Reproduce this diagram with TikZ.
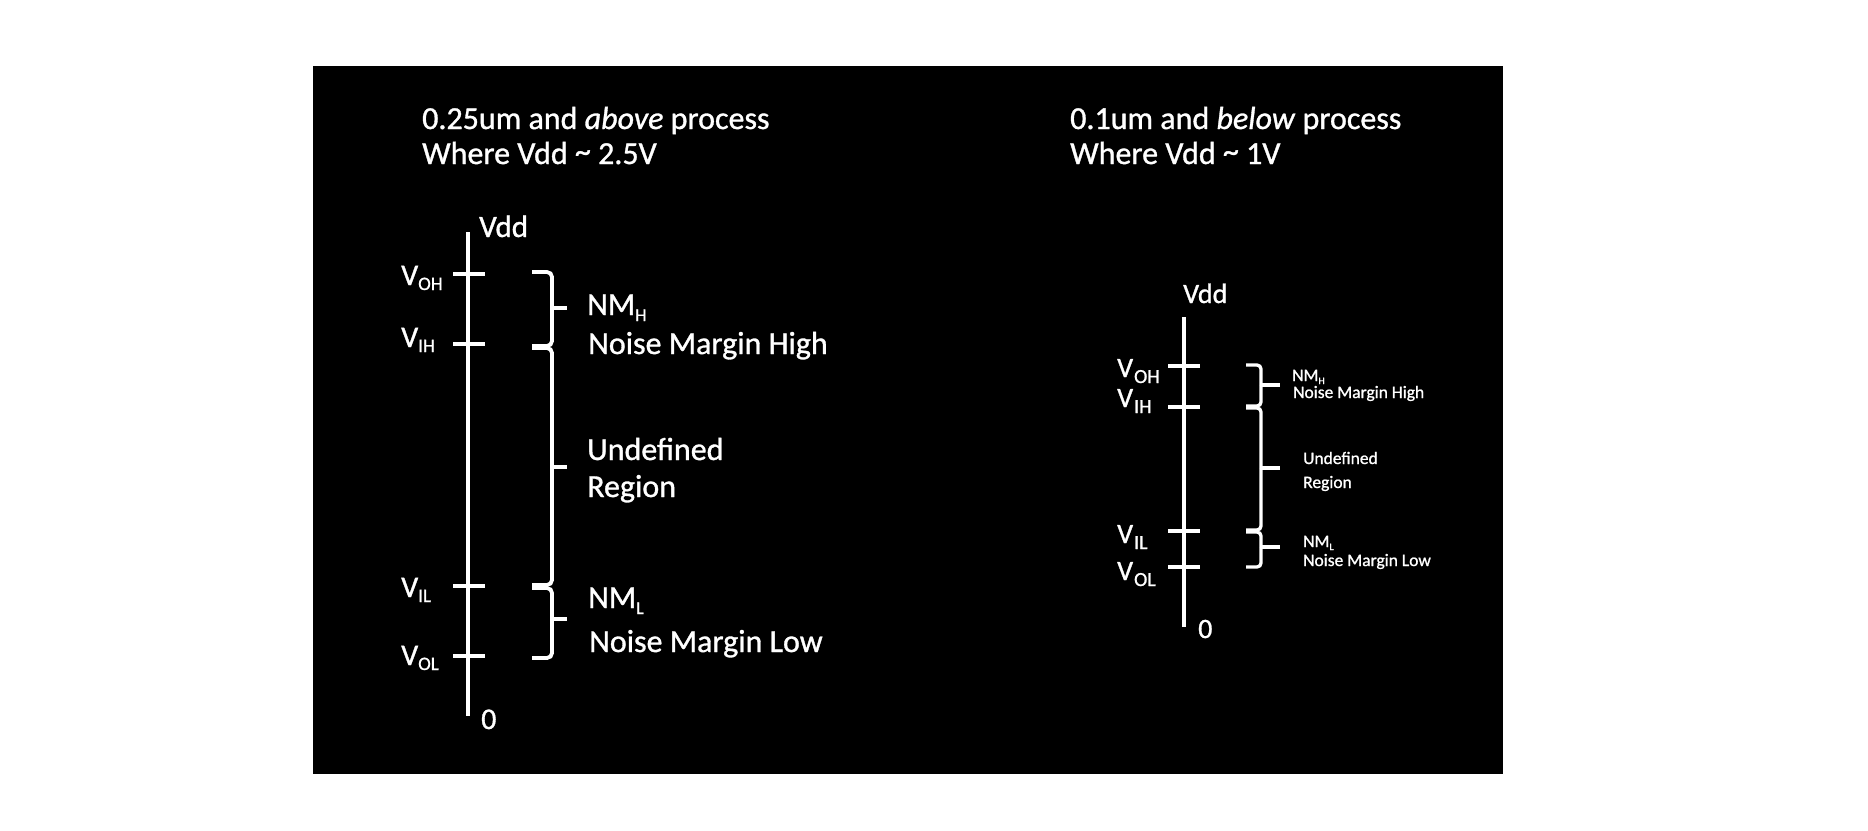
\documentclass[tikz,border=0pt]{standalone}
\usepackage{fontspec}
\setmainfont[FakeBold=1]{Carlito}
\newcommand{\fsz}[1]{\fontsize{#1}{#1}\selectfont}
\newcommand{\mytilde}{\raisebox{2pt}{\textasciitilde}}
\begin{document}
\begin{tikzpicture}[x=1pt,y=-1pt,
  txt/.style={text=white,inner sep=0pt,anchor=base west},
  axisline/.style={draw=white,line width=3.5pt},
  tickline/.style={draw=white,line width=4pt},
  bracket/.style={draw=white,line width=3.8pt,rounded corners=5pt},
  bracketip/.style={draw=white,line width=3.8pt}]
\useasboundingbox (0,0) rectangle (1868,830);
\fill[black] (313,66) rectangle (1503,774);

% ---------------- Left panel ----------------
\node[txt] (lt1) at (422,129) {\fsz{32}0.25um and \textit{above} process};
\node[txt] (lt2) at (422,164) {\fsz{32}Where Vdd \mytilde{} 2.5V};

\coordinate (la-top) at (468,232);
\coordinate (la-bot) at (468,716);
\draw[axisline] (la-top) -- (la-bot);
\node[txt] (lvdd) at (479,237) {\fsz{31}Vdd};
\node[txt] (lzero) at (481,729) {\fsz{30}0};

\foreach \n/\y in {oh/274,ih/344,il/586,ol/656}{
  \coordinate (lt-\n-a) at (453,\y);
  \coordinate (lt-\n-b) at (485,\y);
  \draw[tickline] (lt-\n-a) -- (lt-\n-b);
}
\node[txt] (lvoh) at (401,285) {\fsz{30}V\raisebox{-5pt}{\fsz{19}OH}};
\node[txt] (lvih) at (401,347) {\fsz{30}V\raisebox{-5pt}{\fsz{19}IH}};
\node[txt] (lvil) at (401,597) {\fsz{30}V\raisebox{-5pt}{\fsz{19}IL}};
\node[txt] (lvol) at (401,665) {\fsz{30}V\raisebox{-5pt}{\fsz{19}OL}};

% brackets left
\foreach \t/\m/\b [count=\i] in {272/308/346, 348/467/585, 588/619/658}{
  \coordinate (lb\i-t) at (532,\t);
  \coordinate (lb\i-m) at (552,\m);
  \coordinate (lb\i-b) at (532,\b);
  \coordinate (lb\i-tip) at (567,\m);
  \draw[bracket] (lb\i-t) -- (552,\t) -- (lb\i-m);
  \draw[bracket] (lb\i-m) -- (552,\b) -- (lb\i-b);
  \draw[bracketip] (lb\i-m) -- (lb\i-tip);
}
\node[txt] (lnmh) at (587,315) {\fsz{32}NM\raisebox{-6pt}{\fsz{18}H}};
\node[txt] (lnmht) at (588,354) {\fsz{32}Noise Margin High};
\node[txt] (lund) at (587,460) {\fsz{32}Undefined};
\node[txt] (lreg) at (587,497) {\fsz{32}Region};
\node[txt] (lnml) at (588,608) {\fsz{32}NM\raisebox{-6pt}{\fsz{18}L}};
\node[txt] (lnmlt) at (589,652) {\fsz{32}Noise Margin Low};

% ---------------- Right panel ----------------
\node[txt] (rt1) at (1070,129) {\fsz{32}0.1um and \textit{below} process};
\node[txt] (rt2) at (1070,164) {\fsz{32}Where Vdd \mytilde{} 1V};

\coordinate (ra-top) at (1184,317);
\coordinate (ra-bot) at (1184,627);
\draw[axisline] (ra-top) -- (ra-bot);
\node[txt] (rvdd) at (1183,303) {\fsz{28}Vdd};
\node[txt] (rzero) at (1198,638) {\fsz{28}0};

\foreach \n/\y in {oh/365.5,ih/407,il/531,ol/567}{
  \coordinate (rt-\n-a) at (1168,\y);
  \coordinate (rt-\n-b) at (1200,\y);
  \draw[tickline] (rt-\n-a) -- (rt-\n-b);
}
\node[txt] (rvoh) at (1117,377) {\fsz{28}V\kern1pt\raisebox{-6pt}{\fsz{20}OH}};
\node[txt] (rvih) at (1117,407) {\fsz{28}V\kern1pt\raisebox{-6pt}{\fsz{20}IH}};
\node[txt] (rvil) at (1117,543) {\fsz{28}V\kern1pt\raisebox{-6pt}{\fsz{20}IL}};
\node[txt] (rvol) at (1117,580) {\fsz{28}V\kern1pt\raisebox{-6pt}{\fsz{20}OL}};

\foreach \t/\m/\b [count=\i] in {365/385/406, 408/468/530, 532/547/567}{
  \coordinate (rb\i-t) at (1246,\t);
  \coordinate (rb\i-m) at (1261,\m);
  \coordinate (rb\i-b) at (1246,\b);
  \coordinate (rb\i-tip) at (1280,\m);
  \draw[bracket,line width=3.3pt,rounded corners=4pt] (rb\i-t) -- (1261,\t) -- (rb\i-m);
  \draw[bracket,line width=3.3pt,rounded corners=4pt] (rb\i-m) -- (1261,\b) -- (rb\i-b);
  \draw[bracketip,line width=3.3pt] (rb\i-m) -- (rb\i-tip);
}
\node[txt] (rnmh) at (1292,381) {\fsz{17.5}NM\raisebox{-3pt}{\fsz{10}H}};
\node[txt] (rnmht) at (1293,398) {\fsz{17.5}Noise Margin High};
\node[txt] (rund) at (1303,464) {\fsz{17.5}Undefined};
\node[txt] (rreg) at (1303,488) {\fsz{17.5}Region};
\node[txt] (rnml) at (1303,547) {\fsz{17.5}NM\raisebox{-3pt}{\fsz{10}L}};
\node[txt] (rnmlt) at (1303,566) {\fsz{17.5}Noise Margin Low};
\end{tikzpicture}
\end{document}
